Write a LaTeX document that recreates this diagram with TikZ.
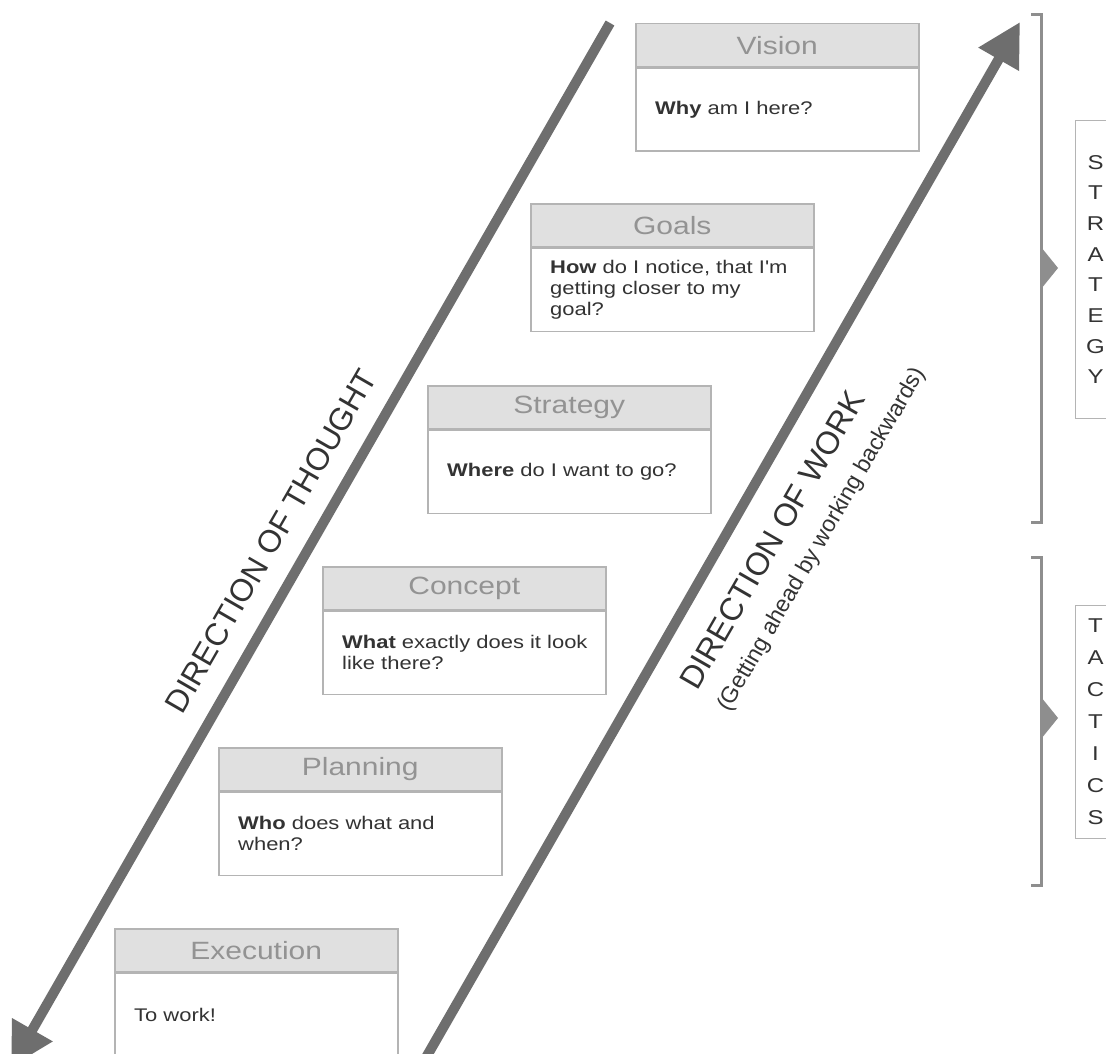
\documentclass[tikz,border=0pt]{standalone}
\usepackage{fontspec}
\setmainfont{Liberation Sans}
\newfontfamily\boxfont[FakeStretch=1.2]{Liberation Sans}
\usetikzlibrary{arrows.meta}
\definecolor{arrowgray}{HTML}{6E6E6E}
\definecolor{boxline}{HTML}{B4B4B4}
\definecolor{headfill}{HTML}{E0E0E0}
\definecolor{headtext}{HTML}{939393}
\definecolor{bodytext}{HTML}{333333}
\definecolor{bracketgray}{HTML}{8E8E8E}
\begin{document}
\begin{tikzpicture}[x=1pt,y=-1pt,
  header/.style={draw=boxline, line width=1.5pt, fill=headfill, minimum width=283pt, minimum height=43pt, anchor=north west, inner sep=0pt, font=\boxfont\fontsize{25}{30}\selectfont, text=headtext},
  body/.style={draw=boxline, line width=1.5pt, fill=white, minimum width=283pt, minimum height=83pt, anchor=north, inner sep=0pt},
  bodytxt/.style={anchor=west, inner sep=0pt, align=left, font=\boxfont\fontsize{18.3}{21}\selectfont, text=bodytext},
  bigarrow/.style={draw=arrowgray, line width=10pt, -{Triangle[length=43pt,width=44pt]}},
  bracket/.style={draw=bracketgray, line width=3pt},
  sidebox/.style={draw=boxline, line width=1pt, minimum width=40pt, anchor=north west, inner sep=0pt, align=center, text=bodytext},
  rotlabel/.style={rotate=60, inner sep=0pt, text=bodytext}
]
\fill[white] (0,0) rectangle (1106,1054);
\useasboundingbox (0,0) rectangle (1106,1054);

% arrows
\coordinate (thoughtS) at (610,23);
\coordinate (thoughtE) at (11,1067);
\coordinate (workS) at (420,1068);
\coordinate (workE) at (1020,22);
\draw[bigarrow] (thoughtS) -- (thoughtE);
\draw[bigarrow] (workS) -- (workE);

% boxes
\node[header] (visionH) at (635,23) {Vision};
\node[body] (visionB) at (visionH.south) {};
\node[bodytxt] (visionT) at ([xshift=20pt]visionB.west) {\textbf{Why} am I here?};
\node[header] (goalsH) at (530,203) {Goals};
\node[body] (goalsB) at (goalsH.south) {};
\node[bodytxt] (goalsT) at ([xshift=20pt]goalsB.west) {\textbf{How} do I notice, that I'm\\getting closer to my\\goal?};
\node[header] (strategyH) at (427,385) {Strategy};
\node[body] (strategyB) at (strategyH.south) {};
\node[bodytxt] (strategyT) at ([xshift=20pt]strategyB.west) {\textbf{Where} do I want to go?};
\node[header] (conceptH) at (322,566) {Concept};
\node[body] (conceptB) at (conceptH.south) {};
\node[bodytxt] (conceptT) at ([xshift=20pt]conceptB.west) {\textbf{What} exactly does it look\\like there?};
\node[header] (planningH) at (218,747) {Planning};
\node[body] (planningB) at (planningH.south) {};
\node[bodytxt] (planningT) at ([xshift=20pt]planningB.west) {\textbf{Who} does what and\\when?};
\node[header] (executionH) at (114,928) {Execution};
\node[body] (executionB) at (executionH.south) {};
\node[bodytxt] (executionT) at ([xshift=20pt]executionB.west) {To work!};

% rotated labels
\node[rotlabel, font=\fontsize{31.5}{31.5}\selectfont] (thoughtlbl) at (271,541) {DIRECTION OF THOUGHT};
\node[rotlabel, font=\fontsize{32}{32}\selectfont] (worklbl) at (772,540) {DIRECTION OF WORK};
\node[rotlabel, font=\fontsize{23}{23}\selectfont] (worksub) at (822,540) {(Getting ahead by working backwards)};

% brackets
\draw[bracket] (1031,15) -- (1041,15) -- (1041,522) -- (1031,522);
\fill[bracketgray] (1041,247) -- (1058,268) -- (1041,289) -- cycle;
\draw[bracket] (1031,557) -- (1041,557) -- (1041,885) -- (1031,885);
\fill[bracketgray] (1041,697) -- (1058,718) -- (1041,739) -- cycle;

% side boxes
\node[sidebox, minimum height=298pt, font=\boxfont\fontsize{20}{30.7}\selectfont] (strategyside) at (1075,120) {S\\T\\R\\A\\T\\E\\G\\Y};
\node[sidebox, minimum height=233pt, font=\boxfont\fontsize{20}{32}\selectfont] (tacticsside) at (1075,605) {T\\A\\C\\T\\I\\C\\S};
\end{tikzpicture}
\end{document}
